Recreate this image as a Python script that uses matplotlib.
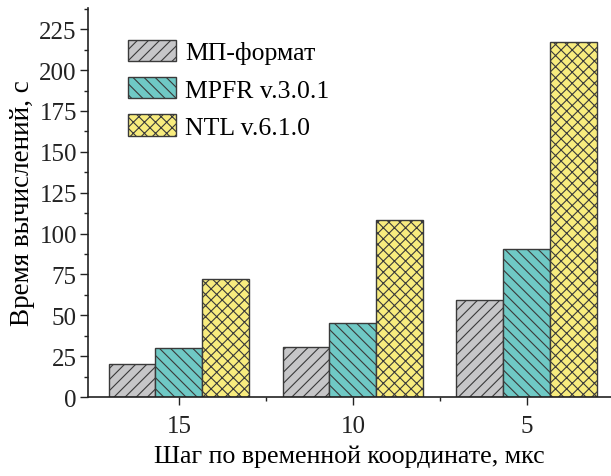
import numpy as np
import matplotlib
matplotlib.use("Agg")
import matplotlib.pyplot as plt
from matplotlib.ticker import MultipleLocator

plt.rcParams["font.family"] = ["Liberation Serif", "DejaVu Serif"]
plt.rcParams["hatch.linewidth"] = 0.8

# computation time per time step, seconds
steps = ["15", "10", "5"]
mp_format = [20, 30.5, 59.5]
mpfr = [30, 45, 90.5]
ntl = [72, 108, 217]
series_names = ["МП-формат", "MPFR v.3.0.1", "NTL v.6.1.0"]

colors = ["#c6c6c8", "#6fc9c5", "#f8ec7e"]
hatches = ["///", "\\\\\\", "xxx"]
edge = "#3a3a3a"

fig = plt.figure(figsize=(6.11, 4.77), dpi=100)
ax = fig.add_axes([0.144, 0.1656, 0.856, 0.8155])

x = np.arange(len(steps))
w = 0.27
for i, (vals, name) in enumerate(zip([mp_format, mpfr, ntl], series_names)):
    ax.bar(x + (i - 1) * w, vals, w, color=colors[i], edgecolor=edge,
           hatch=hatches[i], linewidth=1.0, label=name)

ax.set_xlim(-0.523, 2.483)
ax.set_ylim(0, 238)
ax.set_xticks(x)
ax.set_xticklabels(steps)
ax.set_xticks([0.5, 1.5], minor=True)
ax.yaxis.set_major_locator(MultipleLocator(25))
ax.yaxis.set_minor_locator(MultipleLocator(12.5))

for side in ("top", "right"):
    ax.spines[side].set_visible(False)
for side in ("left", "bottom"):
    ax.spines[side].set_linewidth(1.2)
    ax.spines[side].set_color("#222222")

ax.tick_params(which="major", direction="out", length=6, width=1.0,
               labelsize=18, colors="#222222")
ax.tick_params(axis="x", which="major", pad=7)
ax.tick_params(axis="y", which="major", pad=2)
ax.tick_params(which="minor", direction="out", length=3, width=1.0,
               colors="#222222")

ax.set_ylabel("Время вычислений, с", fontsize=19.5, labelpad=3)
ax.set_xlabel("Шаг по временной координате, мкс", fontsize=18.7, labelpad=5)

leg = ax.legend(loc="upper left", bbox_to_anchor=(0.043, 0.965), frameon=False,
                fontsize=18.5, handlelength=1.85, handleheight=0.9,
                handletextpad=0.35, labelspacing=0.5, borderaxespad=0.3)

fig.savefig("out.png", dpi=100)
